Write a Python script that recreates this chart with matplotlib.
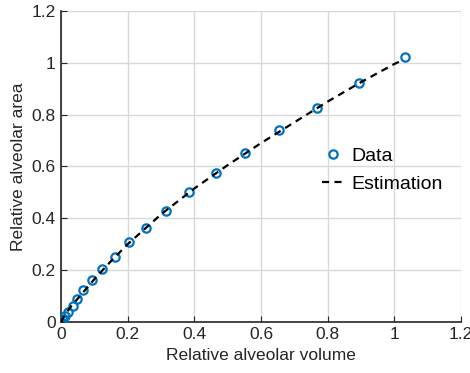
import numpy as np
import matplotlib
matplotlib.use('Agg')
import matplotlib.pyplot as plt
from matplotlib.ticker import FuncFormatter

plt.rcParams['font.family'] = ['Liberation Sans', 'DejaVu Sans']

# measured data points (relative volume, relative area)
data_x = [0.0, 0.005, 0.012, 0.022, 0.035, 0.049, 0.067, 0.092, 0.123, 0.162,
          0.204, 0.255, 0.315, 0.385, 0.464, 0.553, 0.654, 0.767, 0.894, 1.032]
data_y = [0.0, 0.008, 0.021, 0.040, 0.062, 0.090, 0.124, 0.162, 0.205, 0.252,
          0.308, 0.364, 0.429, 0.501, 0.573, 0.653, 0.739, 0.826, 0.921, 1.020]

# estimation curve
est_x = [0.0, 0.01, 0.03, 0.05, 0.1, 0.15, 0.2, 0.3, 0.4, 0.5, 0.6, 0.7, 0.8, 0.9, 1.0, 1.025]
est_y = [0.0, 0.025, 0.06, 0.09, 0.165, 0.235, 0.30, 0.415, 0.515, 0.605, 0.69, 0.77, 0.85, 0.925, 0.995, 1.01]

ticks = [0, 0.2, 0.4, 0.6, 0.8, 1, 1.2]
fmt = FuncFormatter(lambda v, p: '%g' % round(v, 2))

fig = plt.figure(figsize=(4.7, 3.73), dpi=100)
ax = fig.add_axes([0.130, 0.137, 0.851, 0.834])

ax.plot(data_x, data_y, 'o', mfc='none', mec='#0072BD', mew=1.6, ms=6, label='Data', zorder=3)
ax.plot(est_x, est_y, '--', color='black', lw=1.6, dashes=(3.2, 2.4), label='Estimation', zorder=4)

ax.set_xlim(0, 1.2)
ax.set_ylim(0, 1.2)
ax.set_xticks(ticks)
ax.set_yticks(ticks)
ax.xaxis.set_major_formatter(fmt)
ax.yaxis.set_major_formatter(fmt)
ax.grid(True, color='#d9d9d9', lw=1)
ax.set_axisbelow(True)
for s in ['top', 'right']:
    ax.spines[s].set_visible(False)
for s in ['left', 'bottom']:
    ax.spines[s].set_color('#262626')
    ax.spines[s].set_linewidth(1.2)
ax.tick_params(direction='in', length=4, colors='#262626', labelsize=12.5, pad=4)
ax.set_xlabel('Relative alveolar volume', fontsize=12.5, color='#262626', labelpad=4)
ax.set_ylabel('Relative alveolar area', fontsize=12.5, color='#262626', labelpad=4)

ax.legend(loc='upper left', bbox_to_anchor=(0.6525, 0.56), frameon=False, fontsize=14,
          handlelength=1.15, handletextpad=0.35, labelspacing=0.5, borderpad=0,
          borderaxespad=0)

fig.savefig('out.png', dpi=100)
